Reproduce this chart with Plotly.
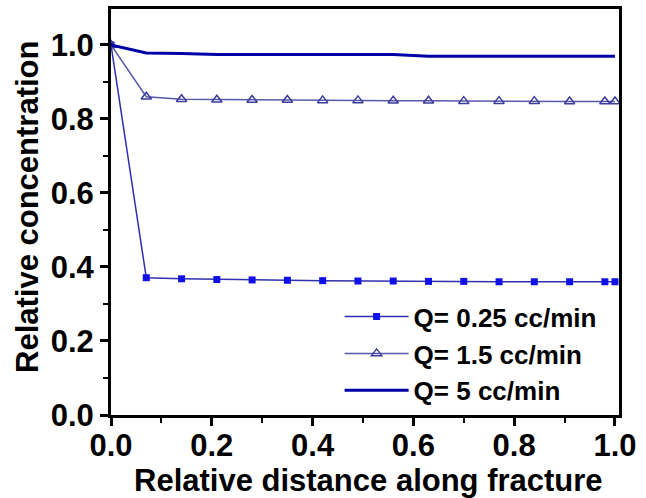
import plotly.graph_objects as go

# Data
x_pts = [0.0, 0.07, 0.14, 0.21, 0.28, 0.35, 0.42, 0.49, 0.56, 0.63, 0.70, 0.77, 0.84, 0.91, 0.98, 1.0]
q025 = [1.0, 0.371, 0.368, 0.366, 0.365, 0.364, 0.363, 0.362, 0.362, 0.361, 0.361, 0.360, 0.360, 0.360, 0.360, 0.360]
q15 = [1.0, 0.860, 0.853, 0.852, 0.851, 0.851, 0.850, 0.850, 0.849, 0.849, 0.848, 0.848, 0.848, 0.847, 0.847, 0.847]
q5 = [1.0, 0.978, 0.977, 0.974, 0.974, 0.974, 0.974, 0.974, 0.974, 0.969, 0.969, 0.969, 0.969, 0.969, 0.969, 0.969]
names = ["Q= 0.25 cc/min", "Q= 1.5 cc/min", "Q= 5 cc/min"]
x_ticks = [0.0, 0.2, 0.4, 0.6, 0.8, 1.0]
y_ticks = [0.0, 0.2, 0.4, 0.6, 0.8, 1.0]
x_title = "Relative distance along fracture"
y_title = "Relative concentration"

FONT = "Liberation Sans, Arial, sans-serif"

fig = go.Figure()
fig.add_trace(go.Scatter(
    x=x_pts, y=q025, name=names[0], mode="lines+markers", legendgroup="a",
    line=dict(color="#3030b0", width=1.5),
    marker=dict(symbol="square", size=7, color="#1010e8", line=dict(width=0))))
fig.add_trace(go.Scatter(
    x=x_pts, y=q15, name=names[1], mode="lines+markers", legendgroup="b",
    line=dict(color="#5858a8", width=1.5),
    marker=dict(symbol="triangle-up-open", size=9, color="#3c3c9c", line=dict(width=1.5))))
fig.add_trace(go.Scatter(
    x=x_pts, y=q5, name=names[2], mode="lines", legendgroup="c",
    line=dict(color="#0000a8", width=3)))

axis_common = dict(
    showline=True, linecolor="black", linewidth=3, mirror=True,
    ticks="outside", ticklen=8, tickwidth=2.5, tickcolor="black",
    showgrid=False, zeroline=False, automargin=False,
    tickformat=".1f",
    minor=dict(ticks="outside", ticklen=5, tickwidth=2, tickcolor="black", dtick=0.1, showgrid=False),
)

fig.update_xaxes(range=[0, 1.008], tickvals=x_ticks, **axis_common,
                 ticklabelstandoff=-7,
                 tickfont=dict(family=FONT, size=31, color="black", weight="bold"))
fig.update_yaxes(range=[0, 1.097], tickvals=y_ticks, **axis_common,
                 tickfont=dict(family=FONT, size=31, color="black", weight="bold"))

title_font = dict(family=FONT, size=31, color="black", weight="bold")
fig.add_annotation(text=x_title, xref="paper", yref="paper", x=(368.5 - 111) / 508,
                   y=-(480 - 415) / 406, xanchor="center", yanchor="middle",
                   showarrow=False, font=title_font)
fig.add_annotation(text=y_title, xref="paper", yref="paper", x=-(111 - 28) / 508,
                   y=(415 - 207) / 406, xanchor="center", yanchor="middle",
                   textangle=-90, showarrow=False, font=title_font)

fig.update_layout(
    width=646, height=498,
    margin=dict(l=111, r=27, t=9, b=83),
    paper_bgcolor="white", plot_bgcolor="white",
    showlegend=True,
    legend=dict(x=0.45, y=0.30, xanchor="left", yanchor="top",
                bgcolor="rgba(0,0,0,0)", borderwidth=0,
                font=dict(family=FONT, size=26, color="black", weight="bold"),
                itemwidth=64, tracegroupgap=0),
)

fig.write_html("out.html")
